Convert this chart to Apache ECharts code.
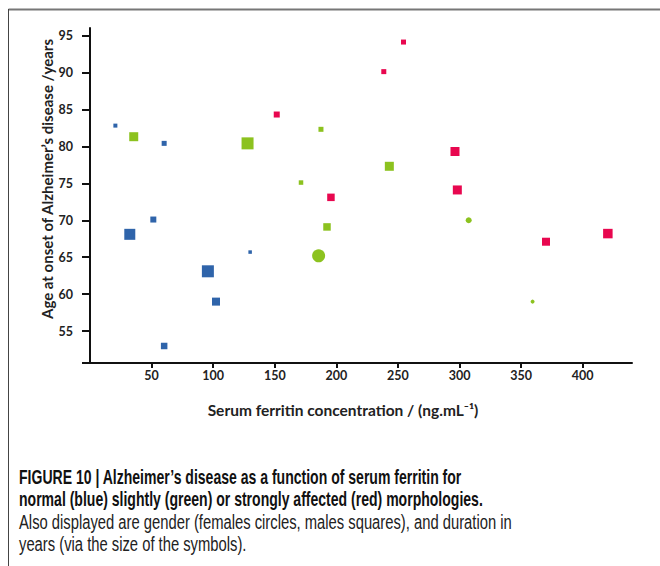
<!DOCTYPE html>
<html>
<head>
<meta charset="utf-8">
<script src="https://cdn.jsdelivr.net/npm/echarts@6/dist/echarts.min.js"></script>
<style>
html,body{margin:0;padding:0;background:#fff;}
#chart{width:660px;height:566px;}
</style>
</head>
<body>
<div id="chart"></div>
<script>
const normalMale = [[20.6,82.8,4],[60.2,80.4,5],[51.4,70.1,6],[32.3,68.1,11],[130,65.7,3.5],[95.7,63.1,12],[102.3,59.0,8],[60.2,53.0,6.5]];
const slightMale = [[35.5,81.3,9],[127.9,80.4,12],[187.5,82.3,5],[171.3,75.1,4.5],[243,77.3,9],[192.4,69.1,7.5]];
const slightFemale = [[185.6,65.2,13],[307.4,70.0,6],[359.3,59.0,4]];
const strongMale = [[151.6,84.3,6],[254.5,94.1,5],[238.5,90.1,5],[296.3,79.3,9],[298.2,74.1,9],[195.6,73.1,7.5],[370.2,67.1,8],[420.4,68.2,9.5]];
const xTicks = [50,100,150,200,250,300,350,400];
const yTicks = [55,60,65,70,75,80,85,90,95];
const xTitle = 'Serum ferritin concentration / (ng.mL\u207B\u00B9)';
const yTitle = 'Age at onset of Alzheimer\u2019s disease /years';
const captionLines = [
  'FIGURE 10 | Alzheimer\u2019s disease as a function of serum ferritin for',
  'normal (blue) slightly (green) or strongly affected (red) morphologies.',
  'Also displayed are gender (females circles, males squares), and duration in',
  'years (via the size of the symbols).'
];

const BLUE = '#2f64aa', GREEN = '#8cc21f', RED = '#e8074f';
const chart = echarts.init(document.getElementById('chart'), null, {renderer:'svg'});
const sz = d => d[2];
const axisFont = 'Lato, "Open Sans", sans-serif';
const capFont = '"Liberation Sans", Arial, sans-serif';
const CAP = 20;

// condense caption font to match the narrow typeface of the reference
const cv = document.createElement('canvas').getContext('2d');
cv.font = 'bold ' + CAP + 'px ' + capFont;
const boldScale = 443 / cv.measureText(captionLines[0]).width;
cv.font = CAP + 'px ' + capFont;
const regScale = 493 / cv.measureText(captionLines[2]).width;

function ser(name, data, color, symbol){
  return {name, type:'scatter', data, symbol, symbolSize: sz,
    itemStyle:{color, opacity:1}, emphasis:{disabled:true}, z:3};
}
function cap(i, y, bold){
  return {type:'text', x:19, y, scaleX: bold ? boldScale : regScale, originX:0,
    style:{text:captionLines[i], fill: bold ? '#111' : '#222', font:(bold?'bold ':'')+CAP+'px '+capFont, textVerticalAlign:'top'}};
}

chart.setOption({
  animation:false,
  grid:{left:90, right:28, top:28, bottom:203},
  xAxis:{type:'value', min:0, max:440,
    axisLine:{show:true, onZero:false, lineStyle:{color:'#111', width:2}},
    axisTick:{show:true, length:5, customValues:xTicks, lineStyle:{color:'#111', width:2}},
    axisLabel:{customValues:xTicks, color:'#222', fontSize:12.5, fontWeight:'bold', fontFamily:axisFont, margin:6},
    splitLine:{show:false}},
  yAxis:{type:'value', min:50.7, max:96,
    axisLine:{show:true, onZero:false, lineStyle:{color:'#111', width:2}},
    axisTick:{show:true, length:8, customValues:[50.7].concat(yTicks), lineStyle:{color:'#111', width:2}},
    axisLabel:{customValues:yTicks, color:'#222', fontSize:12.5, fontWeight:'bold', fontFamily:axisFont, margin:17},
    splitLine:{show:false}},
  series:[
    ser('normal (male)', normalMale, BLUE, 'rect'),
    ser('slight (male)', slightMale, GREEN, 'rect'),
    ser('slight (female)', slightFemale, GREEN, 'circle'),
    ser('strong (male)', strongMale, RED, 'rect')
  ],
  graphic:[
    {type:'line', shape:{x1:8.5,y1:9.5,x2:660,y2:9.5}, style:{stroke:'#777', lineWidth:2}},
    {type:'line', shape:{x1:8.5,y1:9,x2:8.5,y2:566}, style:{stroke:'#444', lineWidth:1}},
    {type:'text', x:47, y:179, rotation:Math.PI/2,
      style:{text:yTitle, fill:'#222', font:'bold 15px '+axisFont, textAlign:'center', textVerticalAlign:'middle'}},
    {type:'text', x:343, y:410,
      style:{text:xTitle, fill:'#222', font:'bold 15.5px '+axisFont, textAlign:'center', textVerticalAlign:'middle'}},
    cap(0, 467, true),
    cap(1, 489, true),
    cap(2, 512, false),
    cap(3, 534, false)
  ]
});
</script>
</body>
</html>
